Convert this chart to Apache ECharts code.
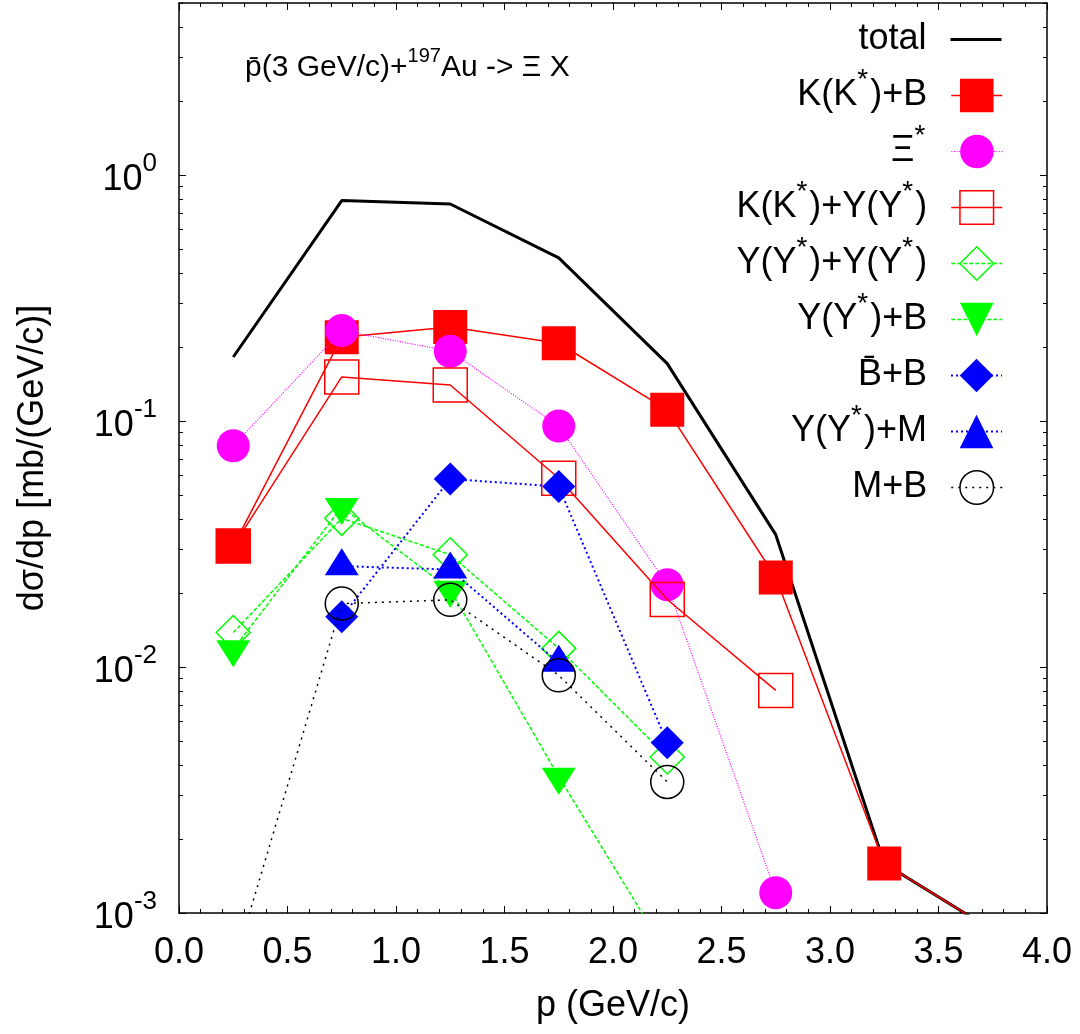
<!DOCTYPE html>
<html>
<head>
<meta charset="utf-8">
<script src="https://cdn.jsdelivr.net/npm/echarts@6/dist/echarts.min.js"></script>
<style>
  html, body { margin: 0; padding: 0; background: #ffffff; }
  #chart { width: 1080px; height: 1034px; }
</style>
</head>
<body>
<div id="chart"></div>
<script>
// Momentum bins (GeV/c)
const momentum = [0.25, 0.75, 1.25, 1.75, 2.25, 2.75, 3.25, 3.75];

// dσ/dp in mb/(GeV/c) for each channel; null = no point in that bin
const total  = [0.182, 0.787, 0.762, 0.460, 0.171, 0.0345, 0.00159, 0.00085];
const kbB    = [0.0310, 0.219, 0.241, 0.207, 0.111, 0.0231, 0.00159, 0.00085];
const xiStar = [0.0793, 0.233, 0.192, 0.0953, 0.0216, 0.00121, null, null];
const kY     = [0.0310, 0.151, 0.140, 0.0585, 0.0188, 0.00803, null, null];
const yY     = [0.0138, 0.0402, 0.0286, 0.0119, 0.00431, null, null, null];
const yB     = [0.0118, 0.0447, 0.0206, 0.00358, 0.00068, null, null, null];
const bbarB  = [null, 0.0160, 0.0581, 0.0541, 0.00492, null, null, null];
const yM     = [null, 0.0257, 0.0249, 0.0104, null, null, null, null];
const mB     = [0.0006, 0.0181, 0.01875, 0.00925, 0.00341, null, null, null];

// Axis ranges and tick labels
const xMin = 0, xMax = 4, xStep = 0.5;
const yMin = 0.001, yMax = 5;
const yDecades = [-3, -2, -1, 0];          // labelled as 10^n

const FONT = "'Liberation Sans', Arial, Helvetica, sans-serif";

// minor log ticks (2..9 x 10^n) expressed in log10 units
const logMax = Math.log10(yMax);
const minorLogTicks = [];
yDecades.forEach(d => {
  for (let k = 2; k <= 9; k++) {
    const v = Math.log10(k) + d;
    if (v <= logMax + 1e-9) minorLogTicks.push(v);
  }
});

const series = [
  { name: 'total',       values: total,  color: '#000000', width: 3,   dash: 'solid', symbol: 'none' },
  { name: 'K(K*)+B',     values: kbB,    color: '#ff0000', width: 1.5, dash: 'solid', symbol: 'rect', size: 34, filled: true },
  { name: 'Ξ*',          values: xiStar, color: '#ff00ff', width: 1.2, dash: [1, 1.5], symbol: 'circle', size: 33, filled: true },
  { name: 'K(K*)+Y(Y*)', values: kY,     color: '#ff0000', width: 1.5, dash: 'solid', symbol: 'rect', size: 34, filled: false },
  { name: 'Y(Y*)+Y(Y*)', values: yY,     color: '#00ff00', width: 1.5, dash: [4, 2], symbol: 'diamond', size: 34, filled: false },
  { name: 'Y(Y*)+B',     values: yB,     color: '#00ff00', width: 1.5, dash: [4, 2], symbol: 'path://M0 0L34 0L17 27Z', size: [34, 27], offset: [0, 4.5], filled: true },
  { name: 'B\u0304+B',   values: bbarB,  color: '#0000ff', width: 2,   dash: [2, 3], symbol: 'diamond', size: 33, filled: true },
  { name: 'Y(Y*)+M',     values: yM,     color: '#0000ff', width: 2,   dash: [2, 3], symbol: 'triangle', size: [34, 27], offset: [0, -4.5], filled: true },
  { name: 'M+B',         values: mB,     color: '#000000', width: 1.5, dash: [2, 5], symbol: 'circle', size: 33, filled: false }
];

// Legend text with raised asterisks; every entry carries the same
// zero-width raised strut so all rows share one box geometry.
function richName(name) {
  const parts = name.split('*');
  let out = '';
  parts.forEach((p, i) => {
    if (p) out += '{n|' + p + '}';
    if (i < parts.length - 1) out += '{s|*}';
  });
  return out + '{h|\u200B}{g| }';
}
const raised = { fontFamily: FONT, fontSize: 28, color: '#000', lineHeight: 10, verticalAlign: 'middle' };
const legendRich = {
  n: { fontFamily: FONT, fontSize: 36, color: '#000', lineHeight: 42, verticalAlign: 'middle' },
  s: Object.assign({}, raised, { padding: [0, 2, 31, 0] }),
  h: Object.assign({}, raised, { padding: [0, 0, 31, 0] }),
  g: { fontFamily: FONT, fontSize: 10, width: 19 }
};
const legendShift = -6;

const axisLine = { show: true, onZero: false, lineStyle: { color: '#000', width: 1.5 } };
const tickStyle = { color: '#000', width: 1 };

function xAxisDef(pos, showLabels) {
  return {
    type: 'value', position: pos, min: xMin, max: xMax, interval: xStep,
    axisLine: axisLine,
    axisTick: { show: true, inside: true, length: 7, lineStyle: tickStyle },
    minorTick: { show: true, splitNumber: 5, length: 4, lineStyle: tickStyle },
    axisLabel: {
      show: showLabels, margin: 22, fontFamily: FONT, fontSize: 36, color: '#000',
      formatter: v => v.toFixed(1)
    },
    splitLine: { show: false }, minorSplitLine: { show: false }
  };
}

function yHelperAxis(pos, ticks, len, withLine, withLabels) {
  return {
    type: 'value', position: pos, min: yDecades[0], max: logMax,
    axisLine: withLine ? axisLine : { show: false },
    axisTick: { show: true, inside: true, length: len, lineStyle: tickStyle, customValues: ticks },
    axisLabel: withLabels ? {
      show: true, margin: 22, customValues: yDecades,
      formatter: v => '{b|10}{e|' + v + '}',
      rich: {
        b: { fontFamily: FONT, fontSize: 36, color: '#000', lineHeight: 36, padding: [11, 0, 0, 0], verticalAlign: 'middle' },
        e: { fontFamily: FONT, fontSize: 26, color: '#000', lineHeight: 26, padding: [0, 0, 23, 0], verticalAlign: 'middle' }
      }
    } : { show: false },
    splitLine: { show: false }
  };
}

function itemStyleFor(s) {
  if (s.symbol === 'none') return { color: 'rgba(0,0,0,0)', borderWidth: 0 };
  return s.filled
    ? { color: s.color, borderWidth: 0 }
    : { color: 'rgba(255,255,255,0)', borderColor: s.color, borderWidth: 1.5 };
}

const option = {
  animation: false,
  backgroundColor: '#ffffff',
  textStyle: { fontFamily: FONT },
  grid: { left: 179, right: 33, top: 3, bottom: 121, containLabel: false },
  xAxis: [xAxisDef('bottom', true), xAxisDef('top', false)],
  yAxis: [
    { type: 'log', logBase: 10, min: yMin, max: yMax, show: false },
    yHelperAxis('left', yDecades, 7, true, true),
    yHelperAxis('left', minorLogTicks, 4, false, false),
    yHelperAxis('right', yDecades, 7, true, false),
    yHelperAxis('right', minorLogTicks, 4, false, false)
  ],
  legend: series.map((s, i) => ({
    data: [{
      name: s.name,
      itemStyle: itemStyleFor(s),
      lineStyle: { color: s.color, width: s.width, type: s.dash }
    }],
    orient: 'vertical',
    align: 'right',
    right: 77,
    top: 37 + 56 * i - 21 + legendShift,
    padding: 0,
    itemWidth: 51,
    itemHeight: 42,
    selectedMode: false,
    formatter: richName,
    textStyle: { rich: legendRich }
  })),
  series: series.map((s, i) => ({
    name: s.name,
    type: 'line',
    xAxisIndex: 0,
    yAxisIndex: 0,
    z: 2 + i * 0.01,
    silent: true,
    clip: true,
    data: momentum.map((p, j) => [p, s.values[j]]).filter(d => d[1] !== null),
    symbol: s.symbol,
    symbolSize: s.size || 0,
    symbolOffset: s.offset || [0, 0],
    showSymbol: s.symbol !== 'none',
    lineStyle: { color: s.color, width: s.width, type: s.dash },
    itemStyle: itemStyleFor(s),
    emphasis: { disabled: true }
  })),
  graphic: [
    {
      type: 'text', left: 245, top: 46, silent: true,
      style: {
        text: '{t|p\u0304(3 GeV/c)+}{s|197}{t|Au -> Ξ X}',
        rich: {
          t: { fontFamily: FONT, fontSize: 30, fill: '#000', lineHeight: 38, verticalAlign: 'middle' },
          s: { fontFamily: FONT, fontSize: 20, fill: '#000', lineHeight: 14, padding: [0, 0, 24, 0], verticalAlign: 'middle' }
        }
      }
    },
    {
      type: 'text', x: 613, y: 1006, silent: true,
      style: { text: 'p (GeV/c)', fontFamily: FONT, fontSize: 36, fill: '#000', align: 'center', verticalAlign: 'middle' }
    },
    {
      type: 'text', x: 33, y: 458, rotation: Math.PI / 2, silent: true,
      style: { text: 'dσ/dp [mb/(GeV/c)]', fontFamily: FONT, fontSize: 36, fill: '#000', align: 'center', verticalAlign: 'middle' }
    }
  ]
};

const chart = echarts.init(document.getElementById('chart'), null, { renderer: 'canvas' });
chart.setOption(option);
</script>
</body>
</html>
